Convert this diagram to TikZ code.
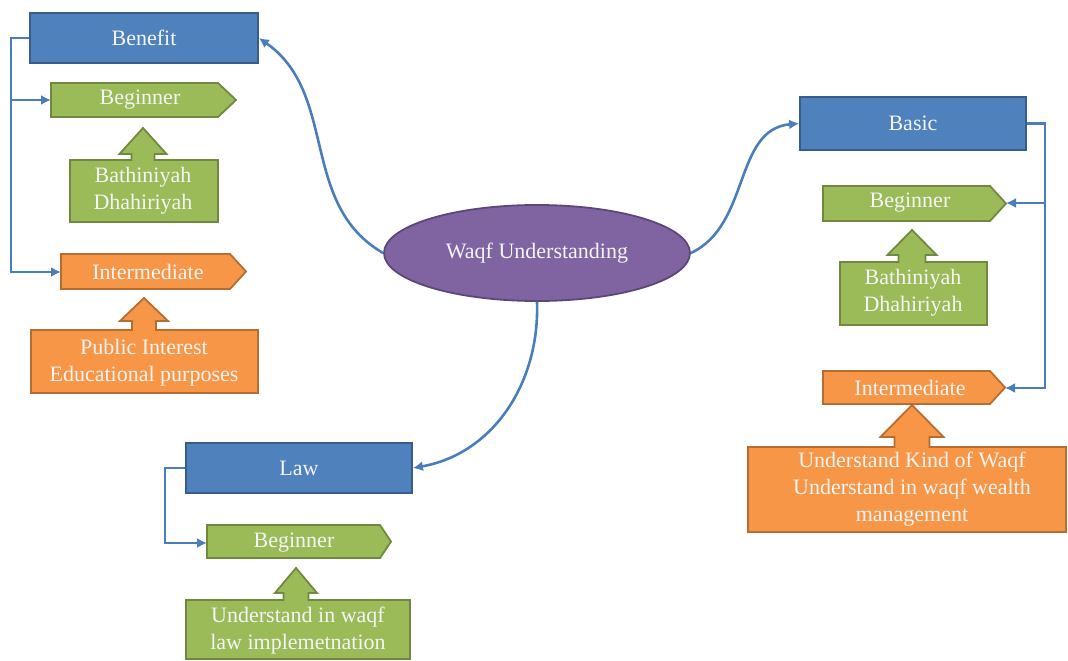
\documentclass[tikz,border=0pt]{standalone}
\usepackage{fontspec}
\setmainfont{Liberation Serif}
\usetikzlibrary{arrows.meta,shapes.geometric}
\definecolor{bfill}{HTML}{4F81BD}
\definecolor{bline}{HTML}{385D8A}
\definecolor{gfill}{HTML}{9BBB59}
\definecolor{gline}{HTML}{71893F}
\definecolor{ofill}{HTML}{F79646}
\definecolor{oline}{HTML}{B66D31}
\definecolor{pfill}{HTML}{8064A2}
\definecolor{pline}{HTML}{5C4776}
\definecolor{cline}{HTML}{4A7EBB}
\definecolor{txt}{HTML}{F4F4F4}
\begin{document}
\begin{tikzpicture}[x=1pt,y=-1pt,
  lbl/.style={text=txt,font=\fontsize{22}{27}\selectfont,align=center,inner sep=0pt},
  bluebox/.style={draw=bline,fill=bfill,line width=1.8pt,rectangle,inner sep=0pt,text=txt,font=\fontsize{22}{27}\selectfont},
  greenshape/.style={draw=gline,fill=gfill,line width=1.8pt,line join=miter},
  orangeshape/.style={draw=oline,fill=ofill,line width=1.8pt,line join=miter},
  conn/.style={draw=cline,line width=2.6pt,-{Latex[length=10pt,width=10pt]}}]
\useasboundingbox (0,0) rectangle (1068,661);

% central ellipse
\node[ellipse,draw=pline,fill=pfill,line width=1.8pt,minimum width=306pt,minimum height=96pt,inner sep=0pt,text=txt,font=\fontsize{22}{27}\selectfont] (wu) at (537,253) {Waqf Understanding};

% blue headings
\node[bluebox,minimum width=228pt,minimum height=50pt] (benefit) at (144,38) {Benefit};
\node[bluebox,minimum width=226pt,minimum height=53pt] (basic) at (913,123.5) {Basic};
\node[bluebox,minimum width=226pt,minimum height=50pt] (law) at (299,468) {Law};

% left: beginner
\draw[greenshape] (51,83) -- (218,83) -- (236,100) -- (218,117) -- (51,117) -- cycle;
\node[lbl] (lbeg) at (140,100) {Beginner};
\coordinate (lbegw) at (51,100);
\draw[greenshape] (70,222) -- (70,160) -- (131.5,160) -- (131.5,154) -- (119.5,154) -- (143,128) -- (166.5,154) -- (154.5,154) -- (154.5,160) -- (218,160) -- (218,222) -- cycle;
\node[lbl] (lbath) at (143,191) {Bathiniyah\\Dhahiriyah};

% left: intermediate
\draw[orangeshape] (61,254) -- (230,254) -- (246,271.5) -- (230,289) -- (61,289) -- cycle;
\node[lbl] (linter) at (148,272) {Intermediate};
\coordinate (linterw) at (61,272);
\draw[orangeshape] (31,393) -- (31,330) -- (132,330) -- (132,321) -- (120,321) -- (144,298) -- (168,321) -- (156,321) -- (156,330) -- (258,330) -- (258,393) -- cycle;
\node[lbl] (lpub) at (144,363) {Public Interest\\Educational purposes};

% right: beginner
\draw[greenshape] (823,186) -- (990,186) -- (1006,203.5) -- (990,221) -- (823,221) -- cycle;
\node[lbl] (rbeg) at (910,203) {Beginner};
\coordinate (rbege) at (1006,203);
\draw[greenshape] (840,325) -- (840,262) -- (898.5,262) -- (898.5,255) -- (887.5,255) -- (912,230) -- (936.5,255) -- (925.5,255) -- (925.5,262) -- (987,262) -- (987,325) -- cycle;
\node[lbl] (rbath) at (913,293) {Bathiniyah\\Dhahiriyah};

% right: intermediate
\draw[orangeshape] (823,371) -- (990,371) -- (1005,387.5) -- (990,404) -- (823,404) -- cycle;
\node[lbl] (rinter) at (910,388) {Intermediate};
\coordinate (rintere) at (1005,388);
\draw[orangeshape] (748,532) -- (748,447) -- (894.5,447) -- (894.5,437) -- (880.5,437) -- (912,405) -- (943.5,437) -- (929.5,437) -- (929.5,447) -- (1066,447) -- (1066,532) -- cycle;
\node[lbl] (rund) at (912,489) {Understand Kind of Waqf\\Understand in waqf wealth\\management};

% law: beginner
\draw[greenshape] (207,525) -- (380,525) -- (391,541.5) -- (380,558) -- (207,558) -- cycle;
\node[lbl] (wbeg) at (294,543) {Beginner};
\coordinate (wbegw) at (207,543);
\draw[greenshape] (186,659) -- (186,600) -- (283.5,600) -- (283.5,593) -- (275,593) -- (296,568) -- (317,593) -- (308.5,593) -- (308.5,600) -- (410,600) -- (410,659) -- cycle;
\node[lbl] (wund) at (298,631) {Understand in waqf\\law implemetnation};

% connectors from centre
\draw[conn] (wu.west) to[out=150,in=-35] (benefit.east);
\draw[conn] (wu.east) to[out=25,in=185] (basic.west);
\draw[conn] (wu.south) to[out=-88,in=10] (law.east);

% tree connectors
\draw[conn] (benefit.west) -- ++(-18,0) |- (lbegw);
\draw[conn] (benefit.west) -- ++(-18,0) |- (linterw);
\draw[conn] (basic.east) -- ++(18,0) |- (rbege);
\draw[conn] (basic.east) -- ++(18,0) |- (rintere);
\draw[conn] (law.west) -- ++(-20,0) |- (wbegw);
\end{tikzpicture}
\end{document}
